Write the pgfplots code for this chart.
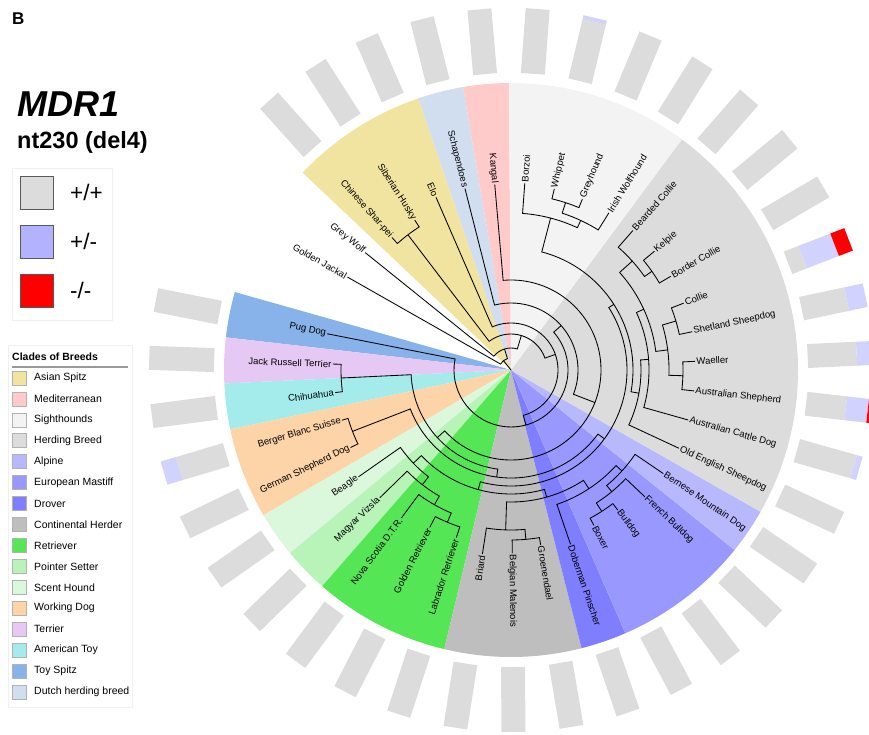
\documentclass[border=0pt]{standalone}
\usepackage{fontspec}
\setmainfont{Liberation Sans}
\usepackage{pgfplots}
\pgfplotsset{compat=1.18}
\definecolor{cAS}{RGB}{240,228,160}
\definecolor{cMed}{RGB}{255,202,202}
\definecolor{cSig}{RGB}{243,243,243}
\definecolor{cHerd}{RGB}{220,220,220}
\definecolor{cAlp}{RGB}{184,184,255}
\definecolor{cEM}{RGB}{152,152,255}
\definecolor{cDrv}{RGB}{126,126,255}
\definecolor{cCont}{RGB}{190,190,190}
\definecolor{cRet}{RGB}{84,230,84}
\definecolor{cPS}{RGB}{184,244,184}
\definecolor{cSH}{RGB}{220,248,220}
\definecolor{cWD}{RGB}{252,212,168}
\definecolor{cTer}{RGB}{230,200,244}
\definecolor{cAT}{RGB}{164,236,236}
\definecolor{cTS}{RGB}{136,178,234}
\definecolor{cDut}{RGB}{208,222,240}
\definecolor{cBar}{RGB}{220,220,220}
\definecolor{cBlue}{RGB}{210,210,255}
\definecolor{cHet}{RGB}{178,178,255}
\definecolor{cHom}{RGB}{255,0,0}
\tikzset{br/.style={black, line width=0.85pt, line join=round, line cap=round}}
\newcommand{\lbl}{\fontsize{9.5}{11}\selectfont}
% sector: angle1, angle2, colour
\newcommand{\sector}[3]{\addplot[fill=#3, draw=none, data cs=polar] coordinates {(#1,0) (#1,287)} arc[start angle=#1, end angle=#2, radius=287pt] -- cycle;}
% bar segment: angle, r1, r2, colour (rectangle 24 wide)
\newcommand{\bseg}[4]{%
 \pgfmathsetmacro{\bsdA}{atan(12/#2)}%
 \pgfmathsetmacro{\bsdB}{atan(12/#3)}%
 \pgfmathsetmacro{\bsaA}{#1-\bsdA}%
 \pgfmathsetmacro{\bsaB}{#1+\bsdA}%
 \pgfmathsetmacro{\bsaC}{#1+\bsdB}%
 \pgfmathsetmacro{\bsaD}{#1-\bsdB}%
 \pgfmathsetmacro{\bsrA}{#2/cos(\bsdA)}%
 \pgfmathsetmacro{\bsrB}{#3/cos(\bsdB)}%
 \addplot[fill=#4, draw=none, data cs=polar] coordinates {(\bsaA,\bsrA) (\bsaB,\bsrA) (\bsaC,\bsrB) (\bsaD,\bsrB)} -- cycle;}
% tree node: angle, parent radius, radius, min angle, max angle
\newcommand{\tn}[5]{\addplot[br, data cs=polar] coordinates {(#1,#2) (#1,#3)} arc[start angle=#1, end angle=#4, radius=#3pt] arc[start angle=#4, end angle=#5, radius=#3pt];}
% leaves
\newcommand{\lfR}[4]{\addplot[br, data cs=polar] coordinates {(#1,#2) (#1,#3)} node[pos=1, anchor=west, rotate=#1, inner sep=1.3pt, font=\lbl, text=black] {#4};}
\newcommand{\lfL}[4]{\addplot[br, data cs=polar] coordinates {(#1,#2) (#1,#3)} node[pos=1, anchor=east, rotate={#1+180}, inner sep=1.3pt, font=\lbl, text=black] {#4};}
% legend boxes
\newcommand{\lbox}[6]{\addplot[fill=#5, draw=#6, line width=0.9pt] coordinates {(#1,#2) (#3,#2) (#3,#4) (#1,#4)} -- cycle;}
\newcommand{\citem}[3]{%
 \pgfmathsetmacro{\ciA}{#1+7}\pgfmathsetmacro{\ciB}{#1-7}%
 \addplot[fill=#2, draw=black!30, line width=0.6pt] coordinates {(-499,\ciA) (-485,\ciA) (-485,\ciB) (-499,\ciB)} -- cycle;
 \node[anchor=west, font=\fontsize{10.5}{12}\selectfont, inner sep=0pt] at (axis cs:-477,#1) {#3};}
\begin{document}
\begin{tikzpicture}
\begin{axis}[x=1pt, y=1pt, xmin=-511, xmax=358, ymin=-364, ymax=370,
  hide axis, clip=true, scale only axis]
% ---- clade sectors
\sector{90.40}{99.63}{cMed}
\sector{99.63}{108.86}{cDut}
\sector{108.86}{136.55}{cAS}
\sector{164.24}{173.47}{cTS}
\sector{173.47}{182.70}{cTer}
\sector{182.70}{191.93}{cAT}
\sector{191.93}{210.40}{cWD}
\sector{210.40}{219.63}{cSH}
\sector{219.63}{228.86}{cPS}
\sector{228.86}{256.55}{cRet}
\sector{256.55}{284.24}{cCont}
\sector{284.24}{293.47}{cDrv}
\sector{293.47}{321.16}{cEM}
\sector{321.16}{330.40}{cAlp}
\sector{-29.60}{53.47}{cHerd}
\sector{53.47}{90.40}{cSig}
% ---- genotype bars
\bseg{2.70}{297}{346}{cBar}\bseg{2.70}{346}{362}{cBlue}
\bseg{11.93}{297}{343}{cBar}\bseg{11.93}{343}{362}{cBlue}
\bseg{21.16}{297}{313}{cBar}\bseg{21.16}{313}{347}{cBlue}\bseg{21.16}{347}{362}{cHom}
\bseg{30.39}{297}{362}{cBar}
\bseg{39.62}{297}{362}{cBar}
\bseg{48.85}{297}{362}{cBar}
\bseg{58.08}{297}{362}{cBar}
\bseg{67.32}{297}{362}{cBar}
\bseg{76.55}{297}{358}{cBar}\bseg{76.55}{358}{362}{cBlue}
\bseg{85.78}{297}{362}{cBar}
\bseg{95.01}{297}{362}{cBar}
\bseg{104.24}{297}{362}{cBar}
\bseg{113.47}{297}{362}{cBar}
\bseg{122.70}{297}{362}{cBar}
\bseg{131.93}{297}{362}{cBar}
\bseg{168.85}{297}{362}{cBar}
\bseg{178.08}{297}{362}{cBar}
\bseg{187.32}{297}{362}{cBar}
\bseg{196.55}{297}{346}{cBar}\bseg{196.55}{346}{362}{cBlue}
\bseg{205.78}{297}{362}{cBar}
\bseg{215.01}{297}{362}{cBar}
\bseg{224.24}{297}{362}{cBar}
\bseg{233.47}{297}{362}{cBar}
\bseg{242.70}{297}{362}{cBar}
\bseg{251.93}{297}{362}{cBar}
\bseg{261.16}{297}{362}{cBar}
\bseg{270.39}{297}{362}{cBar}
\bseg{279.62}{297}{362}{cBar}
\bseg{288.85}{297}{362}{cBar}
\bseg{298.08}{297}{362}{cBar}
\bseg{307.32}{297}{362}{cBar}
\bseg{316.55}{297}{362}{cBar}
\bseg{325.78}{297}{362}{cBar}
\bseg{335.01}{297}{362}{cBar}
\bseg{344.24}{297}{356}{cBar}\bseg{344.24}{356}{362}{cBlue}
\bseg{353.47}{297}{337}{cBar}\bseg{353.47}{337}{359}{cBlue}\bseg{353.47}{359}{362}{cHom}
% ---- tree internal nodes
\tn{127.32}{36}{170}{122.70}{131.93}
\tn{16.545}{158}{172}{11.93}{21.16}
\tn{-1.915}{158}{172}{-6.53}{2.70}
\tn{7.315}{146}{158}{-1.915}{16.545}
\tn{35.005}{163}{172}{30.39}{39.62}
\tn{41.93}{146}{163}{35.005}{48.85}
\tn{24.62}{138}{146}{7.315}{41.93}
\tn{4.43}{130}{138}{-15.76}{24.62}
\tn{-10.28}{122}{130}{-24.99}{4.43}
\tn{71.935}{165}{176}{67.32}{76.55}
\tn{65.0}{157}{165}{58.08}{71.935}
\tn{75.39}{122}{157}{65.0}{85.78}
\tn{32.555}{116}{122}{-10.28}{75.39}
\tn{-57.30}{158}{168}{-61.92}{-52.68}
\tn{-50.375}{150}{158}{-57.30}{-43.45}
\tn{-42.30}{142}{150}{-50.375}{-34.22}
\tn{-56.72}{132}{142}{-71.15}{-42.30}
\tn{-84.995}{160}{170}{-89.61}{-80.38}
\tn{-91.92}{132}{160}{-98.84}{-84.995}
\tn{-112.685}{155}{165}{-117.30}{-108.07}
\tn{-119.61}{145}{155}{-126.53}{-112.685}
\tn{-127.69}{135}{145}{-135.76}{-119.61}
\tn{-136.34}{124}{135}{-144.99}{-127.69}
\tn{-158.835}{108}{170}{-163.45}{-154.22}
\tn{-177.30}{100}{170}{-181.92}{-172.68}
\tn{-74.32}{124}{132}{-91.92}{-56.72}
\tn{-105.33}{116}{124}{-136.34}{-74.32}
\tn{-36.39}{108}{116}{-105.33}{32.555}
\tn{-97.61}{100}{108}{-158.835}{-36.39}
\tn{-137.46}{90}{100}{-177.30}{-97.61}
\tn{-21.225}{67}{90}{-137.46}{95.01}
\tn{41.51}{57}{67}{-21.225}{104.24}
\tn{-74.82}{47}{57}{-191.15}{41.51}
\tn{19.325}{36}{47}{-74.82}{113.47}
\tn{73.32}{22}{36}{19.325}{127.32}
\tn{107.24}{12}{22}{73.32}{141.16}
\tn{128.8}{0}{12}{107.24}{150.39}
% ---- leaves
\lfR{2.70}{172}{184}{Waeller}
\lfR{11.93}{172}{185}{Shetland Sheepdog}
\lfR{21.16}{172}{185}{Collie}
\lfR{30.39}{172}{185}{Border Collie}
\lfR{39.62}{172}{186}{Kelpie}
\lfR{48.85}{163}{185}{Bearded Collie}
\lfR{58.08}{165}{185}{Irish Wolfhound}
\lfR{67.32}{176}{185}{Greyhound}
\lfR{76.55}{176}{186}{Whippet}
\lfR{85.78}{157}{187}{Borzoi}
\lfL{95.01}{90}{186}{Kangal}
\lfL{104.24}{67}{187}{Schapendoes}
\lfL{113.47}{47}{188}{Elo}
\lfL{122.70}{170}{178}{Siberian Husky}
\lfL{131.93}{170}{178}{Chinese Shar-pei}
\lfL{141.16}{22}{187}{Grey Wolf}
\lfL{150.39}{12}{188}{Golden Jackal}
\lfL{-191.15}{57}{187}{Pug Dog}
\lfL{-181.92}{170}{178}{Jack Russell Terrier}
\lfL{-172.68}{170}{177}{Chihuahua}
\lfL{-163.45}{170}{176}{Berger Blanc Suisse}
\lfL{-154.22}{170}{178}{German Shepherd Dog}
\lfL{-144.99}{135}{186}{Beagle}
\lfL{-135.76}{145}{183}{Magyar Vizsla}
\lfL{-126.53}{155}{184}{Nova Scotia D.T.R.}
\lfL{-117.30}{165}{177}{Golden Retriever}
\lfL{-108.07}{165}{176}{Labrador Retriever}
\lfL{-98.84}{160}{186}{Briard}
\lfR{-89.61}{170}{183}{Belgian Malenois}
\lfR{-80.38}{170}{177}{Groenendael}
\lfR{-71.15}{142}{184}{Doberman Pinscher}
\lfR{-61.92}{168}{176}{Boxer}
\lfR{-52.68}{168}{176}{Bulldog}
\lfR{-43.45}{158}{184}{French Bulldog}
\lfR{-34.22}{150}{184}{Bernese Mountain Dog}
\lfR{-24.99}{130}{185}{Old English Sheepdog}
\lfR{-15.76}{138}{184}{Australian Cattle Dog}
\lfR{-6.53}{172}{184}{Australian Shepherd}
% ---- titles and genotype legend
\node[anchor=base west, font=\bfseries\fontsize{17}{18}\selectfont, inner sep=0pt] at (axis cs:-499,345) {B};
\node[anchor=base west, font=\bfseries\itshape\fontsize{36}{40}\selectfont, inner sep=0pt] at (axis cs:-494,253) {MDR1};
\node[anchor=base west, font=\bfseries\fontsize{23.5}{26}\selectfont, inner sep=0pt] at (axis cs:-494,221) {nt230 (del4)};
\draw[black!6, line width=0.8pt] (axis cs:-499,202) rectangle (axis cs:-399,50);
\lbox{-491}{194}{-458}{161}{cBar}{black!65}
\lbox{-491}{145}{-458}{112}{cHet}{black!65}
\lbox{-491}{96}{-458}{63}{cHom}{black!65}
\node[anchor=west, font=\fontsize{22.5}{24}\selectfont, inner sep=0pt] at (axis cs:-441,178) {+/+};
\node[anchor=west, font=\fontsize{22.5}{24}\selectfont, inner sep=0pt] at (axis cs:-441,129) {+/-};
\node[anchor=west, font=\fontsize{22.5}{24}\selectfont, inner sep=0pt] at (axis cs:-441,80) {-/-};
% ---- clade legend
\draw[black!6, line width=0.8pt] (axis cs:-503,25) rectangle (axis cs:-379,-337);
\node[anchor=base west, font=\bfseries\fontsize{10.5}{12}\selectfont, inner sep=0pt] at (axis cs:-499,9) {Clades of Breeds};
\draw[black!40, line width=1.2pt] (axis cs:-499,3) -- (axis cs:-383,3);
\citem{-8.0}{cAS}{Asian Spitz}
\citem{-28.9}{cMed}{Mediterranean}
\citem{-49.9}{cSig}{Sighthounds}
\citem{-70.8}{cHerd}{Herding Breed}
\citem{-91.7}{cAlp}{Alpine}
\citem{-112.6}{cEM}{European Mastiff}
\citem{-133.6}{cDrv}{Drover}
\citem{-154.5}{cCont}{Continental Herder}
\citem{-175.4}{cRet}{Retriever}
\citem{-196.4}{cPS}{Pointer Setter}
\citem{-217.3}{cSH}{Scent Hound}
\citem{-238.2}{cWD}{Working Dog}
\citem{-259.2}{cTer}{Terrier}
\citem{-280.1}{cAT}{American Toy}
\citem{-301.0}{cTS}{Toy Spitz}
\citem{-322.0}{cDut}{Dutch herding breed}
\end{axis}
\pgfresetboundingbox
\path (current axis.south west) rectangle (current axis.north east);
\end{tikzpicture}
\end{document}
